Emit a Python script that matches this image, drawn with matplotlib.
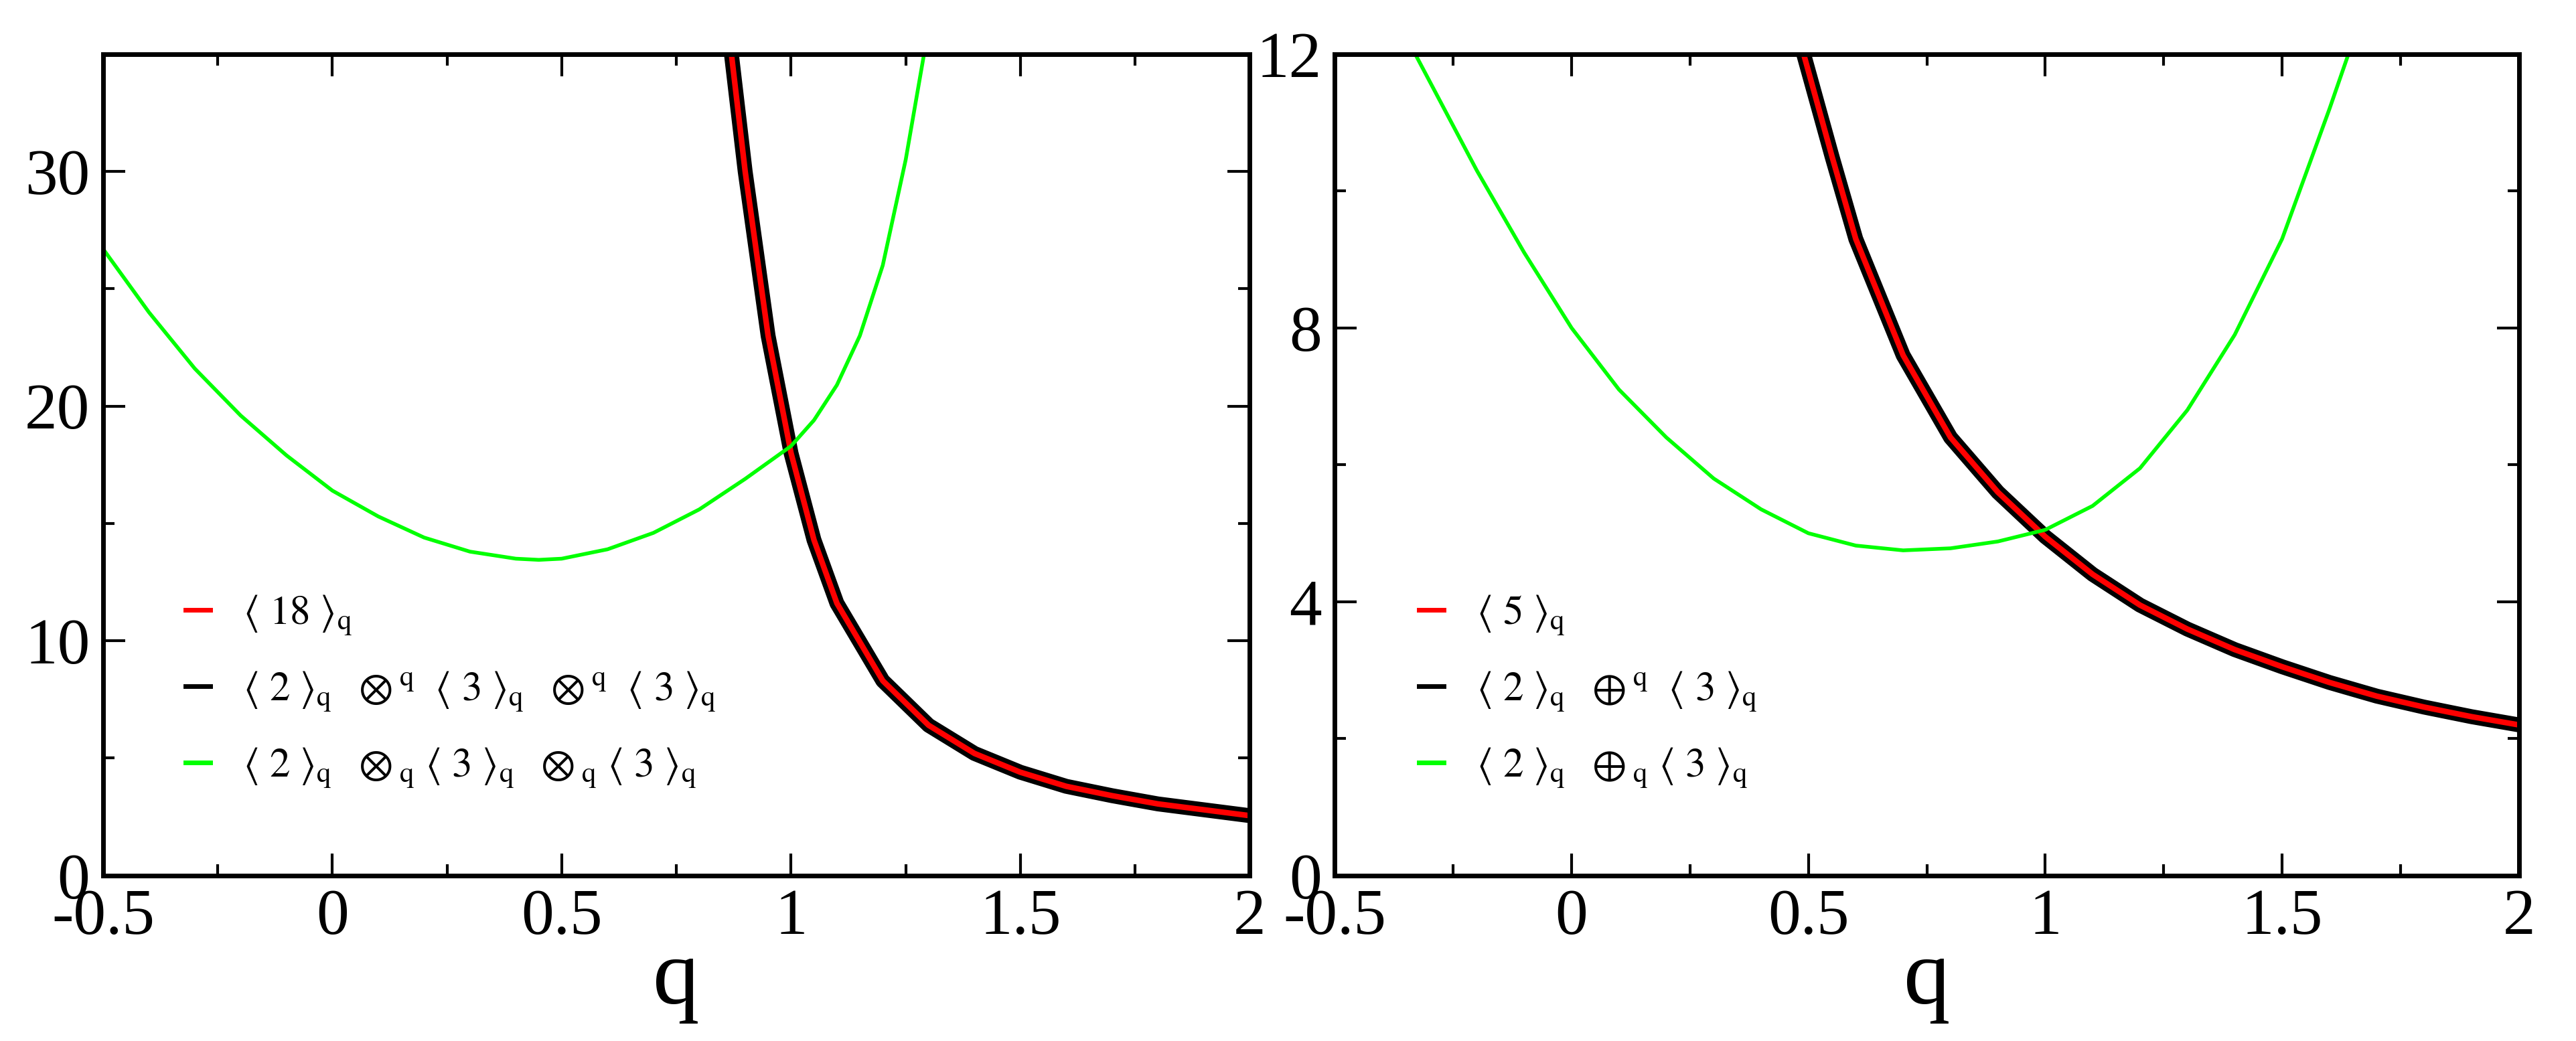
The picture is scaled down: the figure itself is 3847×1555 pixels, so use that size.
import matplotlib
matplotlib.use("Agg")
import matplotlib.pyplot as plt
from matplotlib.ticker import MultipleLocator, FuncFormatter

plt.rcParams['font.family'] = ['Liberation Serif', 'DejaVu Serif']
plt.rcParams['mathtext.fontset'] = 'stix'

# Left panel
L_red_q = [0.87, 0.9, 0.95, 1.0, 1.05, 1.1, 1.2, 1.3, 1.4, 1.5, 1.6, 1.7, 1.8, 1.9, 2.0]
L_red_v = [35, 30, 23, 18, 14.3, 11.6, 8.3, 6.4, 5.2, 4.4, 3.8, 3.4, 3.05, 2.8, 2.55]
L_grn_q = [-0.5, -0.4, -0.3, -0.2, -0.1, 0.0, 0.1, 0.2, 0.3, 0.4, 0.45, 0.5, 0.6, 0.7, 0.8, 0.9,
           1.0, 1.05, 1.1, 1.15, 1.2, 1.25, 1.29]
L_grn_v = [26.7, 24.0, 21.6, 19.6, 17.9, 16.4, 15.3, 14.4, 13.8, 13.5, 13.45, 13.5, 13.9, 14.6,
           15.6, 16.9, 18.3, 19.4, 20.9, 23.0, 26.0, 30.5, 35]
L_labels = [r'$\langle\ 18\ \rangle_{\mathrm{q}}$',
            r'$\langle\ 2\ \rangle_{\mathrm{q}}\ \ \otimes^{\mathrm{q}}\ \ \langle\ 3\ \rangle_{\mathrm{q}}\ \ \otimes^{\mathrm{q}}\ \ \langle\ 3\ \rangle_{\mathrm{q}}$',
            r'$\langle\ 2\ \rangle_{\mathrm{q}}\ \ \otimes_{\mathrm{q}}\ \langle\ 3\ \rangle_{\mathrm{q}}\ \ \otimes_{\mathrm{q}}\ \langle\ 3\ \rangle_{\mathrm{q}}$']
# Right panel
R_red_q = [0.49, 0.55, 0.6, 0.7, 0.8, 0.9, 1.0, 1.1, 1.2, 1.3, 1.4, 1.5, 1.6, 1.7, 1.8, 1.9, 2.0]
R_red_v = [12, 10.5, 9.3, 7.6, 6.4, 5.6, 4.95, 4.4, 3.95, 3.6, 3.3, 3.05, 2.82, 2.62, 2.46, 2.32, 2.2]
R_grn_q = [-0.33, -0.2, -0.1, 0.0, 0.1, 0.2, 0.3, 0.4, 0.5, 0.6, 0.7, 0.8, 0.9, 1.0, 1.1, 1.2,
           1.3, 1.4, 1.5, 1.6, 1.64]
R_grn_v = [12, 10.3, 9.1, 8.0, 7.1, 6.4, 5.8, 5.35, 5.0, 4.82, 4.75, 4.78, 4.88, 5.05, 5.4,
           5.95, 6.8, 7.9, 9.3, 11.2, 12]
R_labels = [r'$\langle\ 5\ \rangle_{\mathrm{q}}$',
            r'$\langle\ 2\ \rangle_{\mathrm{q}}\ \ \oplus^{\mathrm{q}}\ \ \langle\ 3\ \rangle_{\mathrm{q}}$',
            r'$\langle\ 2\ \rangle_{\mathrm{q}}\ \ \oplus_{\mathrm{q}}\ \langle\ 3\ \rangle_{\mathrm{q}}$']

fig = plt.figure(figsize=(38.48, 15.55), dpi=100)
axL = fig.add_axes([0.040, 0.159, 0.445, 0.789])
axR = fig.add_axes([0.518, 0.159, 0.4596, 0.789])

fmt = FuncFormatter(lambda v, p: '%g' % round(v, 3))

def setup(ax, ymax, ymaj, ymin):
    ax.set_xlim(-0.5, 2)
    ax.set_ylim(0, ymax)
    ax.xaxis.set_major_locator(MultipleLocator(0.5))
    ax.xaxis.set_minor_locator(MultipleLocator(0.25))
    ax.yaxis.set_major_locator(MultipleLocator(ymaj))
    ax.yaxis.set_minor_locator(MultipleLocator(ymin))
    ax.xaxis.set_major_formatter(fmt)
    ax.yaxis.set_major_formatter(fmt)
    ax.tick_params(which='both', direction='in', top=True, right=True, width=3, labelsize=70, pad=14)
    ax.tick_params(which='major', length=24)
    ax.tick_params(which='minor', length=12)
    for s in ax.spines.values():
        s.set_linewidth(5)
    ax.set_xlabel('q', fontsize=100, labelpad=-10)

def draw(ax, rq, rv, gq, gv, labels):
    ax.plot(rq, rv, color='black', lw=16)
    ax.plot(rq, rv, color='red', lw=6)
    ax.plot(gq, gv, color='#00ff00', lw=4)
    hr, = ax.plot([], [], color='red', lw=5, label=labels[0])
    hb, = ax.plot([], [], color='black', lw=5, label=labels[1])
    hg, = ax.plot([], [], color='#00ff00', lw=5, label=labels[2])
    ax.legend(handles=[hr, hb, hg], loc='lower left', frameon=False, fontsize=44,
              handlelength=0.6, labelspacing=0.8, handletextpad=0.8,
              bbox_to_anchor=(0.04, 0.06, 0.6, 0.4))

setup(axL, 35, 10, 5)
draw(axL, L_red_q, L_red_v, L_grn_q, L_grn_v, L_labels)
setup(axR, 12, 4, 2)
draw(axR, R_red_q, R_red_v, R_grn_q, R_grn_v, R_labels)

fig.savefig('out.png', dpi=100)
